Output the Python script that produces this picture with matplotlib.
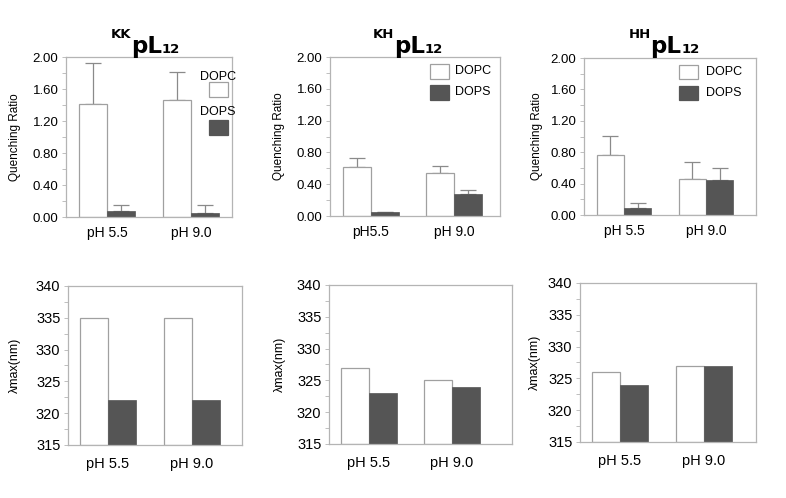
import matplotlib
matplotlib.use("Agg")
import matplotlib.pyplot as plt
from matplotlib.patches import Rectangle
from matplotlib.text import Annotation

plt.rcParams['font.family'] = ['Liberation Sans', 'DejaVu Sans']

peptides = ['KK', 'KH', 'HH']
groups = [0, 1]
top_labels = [['pH 5.5', 'pH 9.0'], ['pH5.5', 'pH 9.0'], ['pH 5.5', 'pH 9.0']]
bot_labels = ['pH 5.5', 'pH 9.0']

# quenching ratio (top row)
q_dopc = [[1.41, 1.46], [0.617, 0.536], [0.76, 0.455]]
q_dopc_err = [[0.51, 0.35], [0.107, 0.098], [0.25, 0.225]]
q_dops = [[0.08, 0.055], [0.048, 0.279], [0.085, 0.44]]
q_dops_err = [[0.07, 0.095], [0.0, 0.047], [0.072, 0.155]]

# lambda max (bottom row)
lam_dopc = [[335, 335], [327, 325], [326, 327]]
lam_dops = [[322, 322], [323, 324], [324, 327]]

W, H = 786, 498
top_box = [(66, 57, 232, 217), (330, 57, 500, 216), (584, 58, 756, 215)]
bot_box = [(68, 286, 242, 445), (329, 285, 512, 444), (580, 283, 756, 442)]
top_xlim = [(-0.488, 1.488), (-0.494, 1.554), (-0.488, 1.61)]
bot_xlim = [(-0.476, 1.595), (-0.482, 1.723), (-0.476, 1.619)]
top_ylab = [-0.274, -0.262, -0.241]
bot_ylab = [-0.273, -0.238, -0.224]
title_x = [146.5, 409.5, 666]

bw = 0.335
dark = '#555555'
edge = '#a0a0a0'
spine_c = '#b4b4b4'

fig = plt.figure(figsize=(W / 100, H / 100), dpi=100)


def make_ax(box):
    l, t, r, b = box
    ax = fig.add_axes([l / W, 1 - b / H, (r - l) / W, (b - t) / H])
    for s in ax.spines.values():
        s.set_color(spine_c)
        s.set_linewidth(0.9)
    ax.tick_params(axis='y', which='both', direction='out', color=spine_c,
                   length=3, width=0.6, pad=2.5)
    ax.tick_params(axis='x', length=0)
    return ax


def add_legend(ax, box_x, text_x, rows, bw_ax, bh_ax):
    for (ty, by), lab, fc in zip(rows, ['DOPC', 'DOPS'], ['white', dark]):
        ax.add_patch(Rectangle((box_x, by), bw_ax, bh_ax, transform=ax.transAxes,
                               facecolor=fc, edgecolor=edge if fc == 'white' else dark,
                               linewidth=0.9, clip_on=False))
        ax.text(text_x, ty, lab, transform=ax.transAxes, fontsize=9,
                va='center', ha='left')


for i in range(3):
    # top row: quenching ratio
    ax = make_ax(top_box[i])
    xl = [g - bw / 2 for g in groups]
    xr = [g + bw / 2 for g in groups]
    ax.bar(xl, q_dopc[i], bw, color='white', edgecolor=edge, linewidth=0.9, zorder=2)
    ax.bar(xr, q_dops[i], bw, color=dark, edgecolor=dark, linewidth=0.5, zorder=2)
    ax.errorbar(xl, q_dopc[i], yerr=[[0, 0], q_dopc_err[i]], fmt='none',
                ecolor='#8a8a8a', elinewidth=0.9, capsize=5.8, capthick=0.9, zorder=1)
    ax.errorbar(xr, q_dops[i], yerr=[[0, 0], q_dops_err[i]], fmt='none',
                ecolor='#8a8a8a', elinewidth=0.9, capsize=5.8, capthick=0.9, zorder=1)
    ax.set_xlim(*top_xlim[i])
    ax.set_ylim(0, 2.0)
    ax.set_yticks([0, 0.4, 0.8, 1.2, 1.6, 2.0])
    ax.set_yticklabels(['%.2f' % v for v in [0, 0.4, 0.8, 1.2, 1.6, 2.0]], fontsize=9.5)
    ax.set_yticks([0.2, 0.6, 1.0, 1.4, 1.8], minor=True)
    ax.set_xticks(groups)
    ax.set_xticklabels(top_labels[i], fontsize=10)
    ax.tick_params(axis='x', pad=6.5)
    ax.set_ylabel('Quenching Ratio', fontsize=8.5)
    ax.yaxis.set_label_coords(top_ylab[i], 0.5)

    if i == 0:
        ax.text(0.807, 0.875, 'DOPC', transform=ax.transAxes, fontsize=9, va='center')
        ax.text(0.807, 0.656, 'DOPS', transform=ax.transAxes, fontsize=9, va='center')
        ax.add_patch(Rectangle((0.861, 0.75), 0.114, 0.094, transform=ax.transAxes,
                               facecolor='white', edgecolor=edge, linewidth=0.9))
        ax.add_patch(Rectangle((0.861, 0.5125), 0.114, 0.094, transform=ax.transAxes,
                               facecolor=dark, edgecolor=dark, linewidth=0.9))
    elif i == 1:
        add_legend(ax, 0.588, 0.735, [(0.909, 0.862), (0.777, 0.730)], 0.112, 0.094)
    else:
        add_legend(ax, 0.552, 0.709, [(0.911, 0.866), (0.777, 0.732)], 0.110, 0.09)

    # title: superscript peptide code, bold pL, subscript 12
    t_main = fig.text(title_x[i] / W, 1 - 53 / H, 'pL', fontsize=16.5, fontweight='bold',
                      family='DejaVu Sans', ha='center', va='baseline')
    fig.add_artist(Annotation(peptides[i], xy=(0, H - 38), xycoords=(t_main, 'figure pixels'),
                              fontsize=9.5, fontweight='bold', family='DejaVu Sans',
                              ha='right', va='baseline'))
    fig.add_artist(Annotation('12', xy=(1, H - 53), xycoords=(t_main, 'figure pixels'),
                              fontsize=9.5, fontweight='bold', family='DejaVu Sans',
                              ha='left', va='baseline'))

    # bottom row: lambda max
    ax = make_ax(bot_box[i])
    ax.bar(xl, [v - 315 for v in lam_dopc[i]], bw, bottom=315, color='white',
           edgecolor=edge, linewidth=0.9)
    ax.bar(xr, [v - 315 for v in lam_dops[i]], bw, bottom=315, color=dark,
           edgecolor=dark, linewidth=0.5)
    ax.set_xlim(*bot_xlim[i])
    ax.set_ylim(315, 340)
    ax.set_yticks([315, 320, 325, 330, 335, 340])
    ax.set_yticklabels(['315', '320', '325', '330', '335', '340'], fontsize=10.5)
    ax.set_yticks([317.5, 322.5, 327.5, 332.5, 337.5], minor=True)
    ax.set_xticks(groups)
    ax.set_xticklabels(bot_labels, fontsize=10.5)
    ax.tick_params(axis='x', pad=8.5)
    ax.set_ylabel('λmax(nm)', fontsize=9)
    ax.yaxis.set_label_coords(bot_ylab[i], 0.5)

fig.savefig('out.png', dpi=100)
